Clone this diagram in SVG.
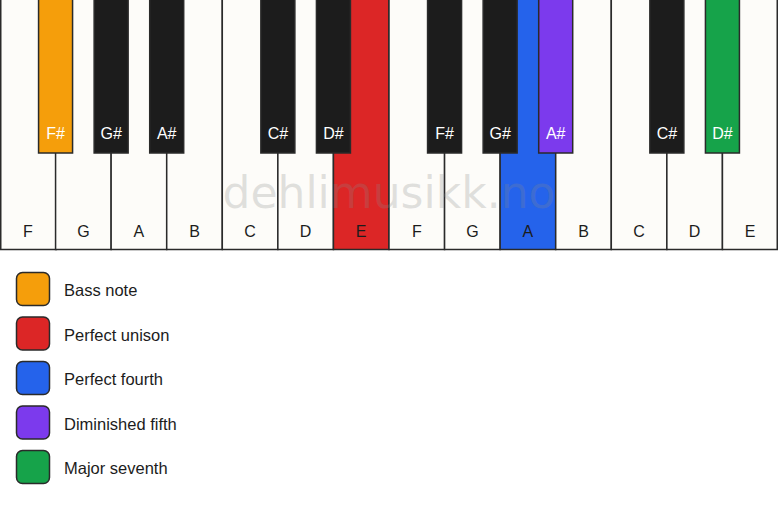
<svg xmlns="http://www.w3.org/2000/svg" width="778" height="506" viewBox="0 0 778 506">
<style>
.w{fill:#fdfcf9;stroke:#2a2a2a;stroke-width:1.5}
.b{fill:#1c1c1c;stroke:#2a2a2a;stroke-width:1.5}
.wl{font-family:"Liberation Sans",Arial,sans-serif;font-size:16px;fill:#1c1c1c;text-anchor:middle}
.bl{font-family:"Liberation Sans",Arial,sans-serif;font-size:16px;fill:#ffffff;text-anchor:middle}
.lg{font-family:"Liberation Sans",Arial,sans-serif;font-size:16.5px;fill:#1c1c1c;dominant-baseline:central}
.sw{stroke:#2a2a2a;stroke-width:1.5}
.wm{font-family:"DejaVu Sans",Verdana,sans-serif;font-size:44px;fill:#888888;fill-opacity:0.25;text-anchor:middle}
</style>
<rect width="778" height="506" fill="#ffffff"/>
<g id="white-keys">
<g id="wk-F1"><rect class="w" x="0.75" y="-1" width="55.57" height="250.5"/><text class="wl" x="27.8" y="237">F</text></g>
<g id="wk-G1"><rect class="w" x="55.57" y="-1" width="55.57" height="250.5"/><text class="wl" x="83.4" y="237">G</text></g>
<g id="wk-A1"><rect class="w" x="111.14" y="-1" width="55.57" height="250.5"/><text class="wl" x="138.9" y="237">A</text></g>
<g id="wk-B1"><rect class="w" x="166.71" y="-1" width="55.57" height="250.5"/><text class="wl" x="194.5" y="237">B</text></g>
<g id="wk-C1"><rect class="w" x="222.29" y="-1" width="55.57" height="250.5"/><text class="wl" x="250.1" y="237">C</text></g>
<g id="wk-D1"><rect class="w" x="277.86" y="-1" width="55.57" height="250.5"/><text class="wl" x="305.6" y="237">D</text></g>
<g id="wk-E1"><rect class="w" x="333.43" y="-1" width="55.57" height="250.5" style="fill:#dc2626"/><text class="wl" x="361.2" y="237">E</text></g>
<g id="wk-F2"><rect class="w" x="389" y="-1" width="55.57" height="250.5"/><text class="wl" x="416.8" y="237">F</text></g>
<g id="wk-G2"><rect class="w" x="444.57" y="-1" width="55.57" height="250.5"/><text class="wl" x="472.4" y="237">G</text></g>
<g id="wk-A2"><rect class="w" x="500.14" y="-1" width="55.57" height="250.5" style="fill:#2563eb"/><text class="wl" x="527.9" y="237">A</text></g>
<g id="wk-B2"><rect class="w" x="555.71" y="-1" width="55.57" height="250.5"/><text class="wl" x="583.5" y="237">B</text></g>
<g id="wk-C2"><rect class="w" x="611.29" y="-1" width="55.57" height="250.5"/><text class="wl" x="639.1" y="237">C</text></g>
<g id="wk-D2"><rect class="w" x="666.86" y="-1" width="55.57" height="250.5"/><text class="wl" x="694.6" y="237">D</text></g>
<g id="wk-E2"><rect class="w" x="722.43" y="-1" width="54.82" height="250.5"/><text class="wl" x="750.2" y="237">E</text></g>
</g>
<text class="wm" x="389" y="208">dehlimusikk.no</text>
<g id="black-keys">
<g id="bk-Fs1"><rect class="b" x="38.57" y="-1" width="34" height="154" style="fill:#f59e0b"/><text class="bl" x="55.57" y="138.5">F#</text></g>
<g id="bk-Gs1"><rect class="b" x="94.14" y="-1" width="34" height="154"/><text class="bl" x="111.14" y="138.5">G#</text></g>
<g id="bk-As1"><rect class="b" x="149.71" y="-1" width="34" height="154"/><text class="bl" x="166.71" y="138.5">A#</text></g>
<g id="bk-Cs1"><rect class="b" x="260.86" y="-1" width="34" height="154"/><text class="bl" x="277.86" y="138.5">C#</text></g>
<g id="bk-Ds1"><rect class="b" x="316.43" y="-1" width="34" height="154"/><text class="bl" x="333.43" y="138.5">D#</text></g>
<g id="bk-Fs2"><rect class="b" x="427.57" y="-1" width="34" height="154"/><text class="bl" x="444.57" y="138.5">F#</text></g>
<g id="bk-Gs2"><rect class="b" x="483.14" y="-1" width="34" height="154"/><text class="bl" x="500.14" y="138.5">G#</text></g>
<g id="bk-As2"><rect class="b" x="538.71" y="-1" width="34" height="154" style="fill:#7c3aed"/><text class="bl" x="555.71" y="138.5">A#</text></g>
<g id="bk-Cs2"><rect class="b" x="649.86" y="-1" width="34" height="154"/><text class="bl" x="666.86" y="138.5">C#</text></g>
<g id="bk-Ds2"><rect class="b" x="705.43" y="-1" width="34" height="154" style="fill:#16a34a"/><text class="bl" x="722.43" y="138.5">D#</text></g>
</g>
<g id="legend">
<g id="lg-bass"><rect class="sw" x="16.5" y="272.5" width="33" height="33" rx="6" fill="#f59e0b"/><text class="lg" x="64" y="290">Bass note</text></g>
<g id="lg-unison"><rect class="sw" x="16.5" y="317" width="33" height="33" rx="6" fill="#dc2626"/><text class="lg" x="64" y="334.5">Perfect unison</text></g>
<g id="lg-fourth"><rect class="sw" x="16.5" y="361.5" width="33" height="33" rx="6" fill="#2563eb"/><text class="lg" x="64" y="379">Perfect fourth</text></g>
<g id="lg-dim5"><rect class="sw" x="16.5" y="406" width="33" height="33" rx="6" fill="#7c3aed"/><text class="lg" x="64" y="423.5">Diminished fifth</text></g>
<g id="lg-maj7"><rect class="sw" x="16.5" y="450.5" width="33" height="33" rx="6" fill="#16a34a"/><text class="lg" x="64" y="468">Major seventh</text></g>
</g>
<g id="connectors"/>
</svg>
